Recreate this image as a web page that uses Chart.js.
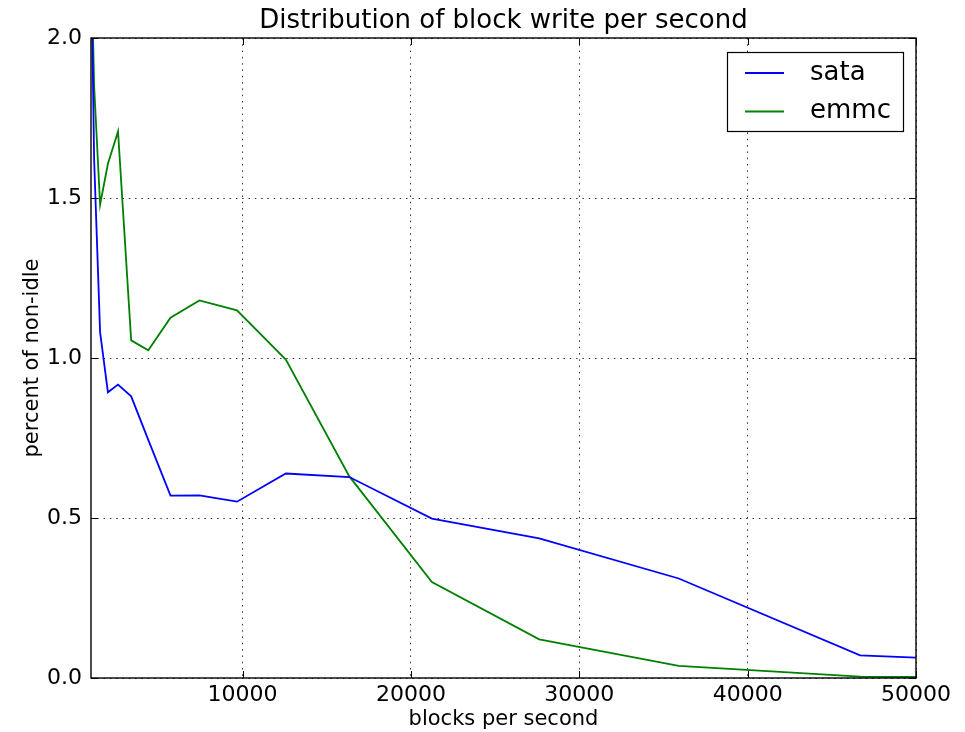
<!DOCTYPE html>
<html>
<head>
<meta charset="utf-8">
<script src="https://cdn.jsdelivr.net/npm/chart.js@4.4.1/dist/chart.umd.min.js"></script>
<style>
  body { margin: 0; background: #fff; }
  #wrap { width: 965px; height: 732px; }
</style>
</head>
<body>
<div id="wrap"><canvas id="blockwrite" width="965" height="732"></canvas></div>
<script>
// blocks per second (bins)
var blocksPerSec = [912, 1186, 1541, 2004, 2605, 3386, 4402, 5722, 7439, 9671, 12572, 16344, 21247, 27621, 35908, 46680, 60684];
var sata = [2.6, 1.62, 1.08, 0.893, 0.917, 0.880, 0.744, 0.570, 0.571, 0.551, 0.639, 0.628, 0.498, 0.436, 0.311, 0.071, 0.040];
var emmc = [2.5, 1.85, 1.479, 1.607, 1.708, 1.055, 1.024, 1.126, 1.180, 1.149, 0.995, 0.630, 0.300, 0.121, 0.038, 0.004, 0.0];
var xTicks = [10000, 20000, 30000, 40000, 50000];
var yTicks = [0, 0.5, 1.0, 1.5, 2.0];
var seriesNames = ["sata", "emmc"];
var seriesColors = ["#0000ff", "#008000"];

var FONT = "'DejaVu Sans', sans-serif";

function toPoints(xs, ys){
	var pts = [];
	for(var i=0; i<xs.length; i++){
		pts.push({x: xs[i], y: ys[i]});
	}
	return pts;
}

// frame, inward tick marks, title and boxed legend like the original
var decorations = {
	id: 'decorations',
	afterDatasetsDraw: function(chart){
		var ctx = chart.ctx, a = chart.chartArea;
		var xs = chart.scales.x, ys = chart.scales.y;
		ctx.save();
		ctx.strokeStyle = '#000';
		ctx.lineWidth = 1;
		ctx.beginPath();
		xs.ticks.forEach(function(t){
			var px = Math.round(xs.getPixelForValue(t.value)) + 0.5;
			ctx.moveTo(px, a.bottom); ctx.lineTo(px, a.bottom - 7);
			ctx.moveTo(px, a.top); ctx.lineTo(px, a.top + 7);
		});
		ys.ticks.forEach(function(t){
			var py = Math.round(ys.getPixelForValue(t.value)) + 0.5;
			ctx.moveTo(a.left, py); ctx.lineTo(a.left + 7, py);
			ctx.moveTo(a.right, py); ctx.lineTo(a.right - 7, py);
		});
		ctx.stroke();
		ctx.lineWidth = 1.4;
		ctx.strokeRect(a.left, a.top, a.right - a.left, a.bottom - a.top);

		// title
		ctx.fillStyle = '#000';
		ctx.font = '26px ' + FONT;
		ctx.textAlign = 'center';
		ctx.textBaseline = 'middle';
		ctx.fillText('Distribution of block write per second', (a.left + a.right) / 2, 21);

		// legend
		var bw = 176, bh = 79;
		var bx = a.right - 13 - bw, by = a.top + 14;
		ctx.fillStyle = '#fff';
		ctx.fillRect(bx, by, bw, bh);
		ctx.lineWidth = 1.2;
		ctx.strokeStyle = '#000';
		ctx.strokeRect(bx + 0.5, by + 0.5, bw, bh);
		chart.data.datasets.forEach(function(ds, i){
			var ly = by + 21 + i * 38.5;
			ctx.strokeStyle = ds.borderColor;
			ctx.lineWidth = 1.8;
			ctx.beginPath();
			ctx.moveTo(bx + 18, ly); ctx.lineTo(bx + 57, ly);
			ctx.stroke();
			ctx.fillStyle = '#000';
			ctx.font = '26px ' + FONT;
			ctx.textAlign = 'left';
			ctx.textBaseline = 'middle';
			ctx.fillText(ds.label, bx + 83, ly);
		});
		ctx.restore();
	}
};

new Chart(document.getElementById("blockwrite"), {
	type: 'line',
	data: {
		datasets: [
			{
				label: seriesNames[0],
				data: toPoints(blocksPerSec, sata),
				borderColor: seriesColors[0],
				backgroundColor: seriesColors[0],
				borderWidth: 1.8,
				pointRadius: 0,
				tension: 0,
				fill: false
			},
			{
				label: seriesNames[1],
				data: toPoints(blocksPerSec, emmc),
				borderColor: seriesColors[1],
				backgroundColor: seriesColors[1],
				borderWidth: 1.8,
				pointRadius: 0,
				tension: 0,
				fill: false
			}
		]
	},
	options: {
		responsive: false,
		animation: false,
		layout: { padding: { top: 38, right: 49, bottom: 0, left: 0 } },
		plugins: {
			legend: { display: false },
			title: { display: false },
			tooltip: { enabled: false }
		},
		scales: {
			x: {
				type: 'linear',
				min: 1000,
				max: 50000,
				afterBuildTicks: function(scale){
					scale.ticks = xTicks.map(function(v){ return {value: v}; });
				},
				afterFit: function(scale){ scale.height = 54; },
				grid: {
					color: 'rgba(0,0,0,0.8)',
					lineWidth: 1,
					drawTicks: false
				},
				border: { display: false, dash: [1.5, 4.8] },
				ticks: {
					padding: 4,
					color: '#000',
					font: { family: FONT, size: 22 },
					maxRotation: 0,
					callback: function(v){ return String(v); }
				},
				title: {
					display: true,
					text: 'blocks per second',
					color: '#000',
					font: { family: FONT, size: 21 },
					padding: { top: 0, bottom: 0 }
				}
			},
			y: {
				min: 0,
				max: 2.0,
				afterBuildTicks: function(scale){
					scale.ticks = yTicks.map(function(v){ return {value: v}; });
				},
				afterFit: function(scale){ scale.width = 91; },
				grid: {
					color: 'rgba(0,0,0,0.8)',
					lineWidth: 1,
					drawTicks: false
				},
				border: { display: false, dash: [1.5, 4.8] },
				ticks: {
					padding: 9,
					color: '#000',
					font: { family: FONT, size: 22 },
					callback: function(v){ return Number(v).toFixed(1); }
				},
				title: {
					display: true,
					text: 'percent of non-idle',
					color: '#000',
					font: { family: FONT, size: 21 },
					padding: { top: 20, bottom: 0 }
				}
			}
		}
	},
	plugins: [decorations]
});
</script>
</body>
</html>
